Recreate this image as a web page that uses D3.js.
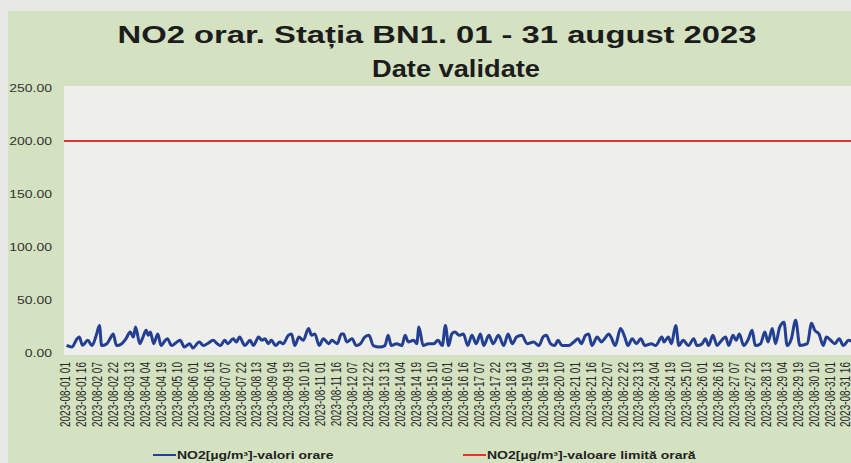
<!DOCTYPE html>
<html>
<head>
<script src="https://d3js.org/d3.v7.min.js"></script>
<style>
body{margin:0;background:#e8e8e6;}
svg{display:block;font-family:Arial, "Liberation Sans", sans-serif;}
</style>
</head>
<body>
<div id="chart"></div>
<script>
// hour index counted from 2023-08-01 01:00, NO2 in µg/m³
var hours = [1,6,11,13,16,21,25,29,32,34,39,42,45,48,53,57,61,64,66,70,73,76,78,80,83,87,90,94,96,100,105,108,112,117,120,126,130,135,139,143,
  146,150,153,158,161,164,169,174,177,182,185,188,191,194,198,202,205,210,213,216,220,224,229,232,235,239,243,248,251,256,260,262,265,270,274,278,282,286,290,
  296,301,304,307,312,317,320,323,328,331,333,337,342,347,351,355,358,361,364,367,371,375,379,383,387,391,394,399,403,408,413,417,421,425,430,435,
  441,446,450,453,457,461,464,468,474,479,483,486,490,493,496,501,505,508,512,514,518,523,527,530,534,538,542,546,552,556,562,564,568,571,575,578,582,
  587,592,595,600,603,606,610,614,617,622,625,629,632,635,639,643,647,650,655,659,662,666,669,673,677,680,684,688,692,699,703,706,710,714,717,721,725,729,733,738,743];
var no2 = [7.2,5.7,13.5,15,7.3,12,7,16.7,26,7,8.8,13.5,18,7,8.8,13.5,19.8,15,24.5,8.8,15,21.4,16.7,19.8,8.8,18,7,12,13.5,7,10.4,12,5.7,8.8,4.7,10.4,7,9.7,12,8.8,
  7,12,8.8,13.5,10.4,15,7,12,7,15,12,13.5,8.8,12,7,10.4,8.8,16.7,18,7,15,12,23,16.7,18,7,13.5,8.8,12,8.8,18,18,10.4,13.5,7,8.8,15,16.7,7,
  5.7,7,16.7,7,8.8,7,16.7,10.4,12,8.8,24.5,7,8.8,8.8,12,7,26,7,18,19.8,16.7,18,7,16.7,8.8,18,7,16.7,8.8,16.7,7,18,8.8,15,16.7,8.8,
  10.4,7,15,16.7,8.8,7,12,7,7,10.4,13.5,8.8,16.7,18,7,15,10.4,13.5,18,15,7,23,15,7,13.5,8.8,13.5,7,8.8,7,15,10.4,15,8.8,26,7,12,
  7,13.5,7,8.8,13.5,7,16.7,7,10.4,15,7,16.7,12,18,7,12,21.4,7,8.8,19.8,10.4,23,8.8,24.5,29,7,13.5,31,7,8.8,28,21.4,18,7,15,12,8.8,13.5,7,12,10];
var limitValue = 200;
var yTicks = [0, 50, 100, 150, 200, 250];
var xLabels = ["2023-08-01 01","2023-08-01 16","2023-08-02 07","2023-08-02 22","2023-08-03 13","2023-08-04 04","2023-08-04 19","2023-08-05 10","2023-08-06 01","2023-08-06 16",
  "2023-08-07 07","2023-08-07 22","2023-08-08 13","2023-08-09 04","2023-08-09 19","2023-08-10 10","2023-08-11 01","2023-08-11 16","2023-08-12 07","2023-08-12 22",
  "2023-08-13 13","2023-08-14 04","2023-08-14 19","2023-08-15 10","2023-08-16 01","2023-08-16 16","2023-08-17 07","2023-08-17 22","2023-08-18 13","2023-08-19 04",
  "2023-08-19 19","2023-08-20 10","2023-08-21 01","2023-08-21 16","2023-08-22 07","2023-08-22 22","2023-08-23 13","2023-08-24 04","2023-08-24 19","2023-08-25 10",
  "2023-08-26 01","2023-08-26 16","2023-08-27 07","2023-08-27 22","2023-08-28 13","2023-08-29 04","2023-08-29 19","2023-08-30 10","2023-08-31 01","2023-08-31 16"];
var labelStep = 15;

var W = 851, H = 463, sx = 1.4;
var svg = d3.select("#chart").append("svg").attr("width", W).attr("height", H);

// green panel and plot area
svg.append("rect").attr("x", 8).attr("y", 11).attr("width", W).attr("height", H)
  .style("fill", "#d4e2c1");
var x = d3.scaleLinear().domain([0, 743]).range([65.5, 854]);
var y = d3.scaleLinear().domain([0, 250]).range([353, 88]);
svg.append("rect").attr("x", 64).attr("y", y(250) - 2).attr("width", W).attr("height", y(0) - y(250) + 4)
  .style("fill", "#eeeeec");

// title
svg.append("text").attr("x", 437).attr("y", 43).attr("text-anchor", "middle")
  .attr("textLength", 639).attr("lengthAdjust", "spacingAndGlyphs")
  .style("font-size", "23px").style("font-weight", "bold").style("fill", "#1c1c1c")
  .text("NO2 orar. Stația BN1. 01 - 31 august 2023");
svg.append("text").attr("x", 456).attr("y", 77).attr("text-anchor", "middle")
  .attr("textLength", 168).attr("lengthAdjust", "spacingAndGlyphs")
  .style("font-size", "23px").style("font-weight", "bold").style("fill", "#1c1c1c")
  .text("Date validate");

// y labels
svg.selectAll("text.ylab").data(yTicks).enter().append("text").attr("class", "ylab")
  .attr("transform", function(d) { return "translate(52," + y(d) + ") scale(" + sx + ",1)"; })
  .attr("dy", "0.35em").attr("text-anchor", "end")
  .style("font-size", "10px").style("fill", "#333")
  .text(d3.format(".2f"));

// x labels
svg.selectAll("text.xlab").data(xLabels).enter().append("text").attr("class", "xlab")
  .attr("transform", function(d, i) { return "translate(" + x(i * labelStep) + ",362) scale(" + sx + ",1) rotate(-90)"; })
  .attr("dy", "0.35em").attr("text-anchor", "end")
  .style("font-size", "10px").style("fill", "#2a2a2a")
  .text(function(d) { return d; });

// limit line
svg.append("line").attr("x1", 64).attr("x2", W).attr("y1", y(limitValue)).attr("y2", y(limitValue))
  .style("stroke", "#e8302e").style("stroke-width", 2);

// hourly series
var pts = hours.map(function(h, i) { return [h, no2[i]]; });
svg.append("path").datum(pts)
  .attr("d", d3.line().curve(d3.curveMonotoneX).x(function(d) { return x(d[0]); }).y(function(d) { return y(d[1]); }))
  .style("fill", "none").style("stroke", "#233f92").style("stroke-width", 3)
  .style("stroke-linejoin", "round");

// legend
var legend = [
  {label: "NO2[µg/m³]-valori orare", color: "#233f92", x: 153},
  {label: "NO2[µg/m³]-valoare limită orară", color: "#e8302e", x: 463}
];
var lg = svg.selectAll("g.leg").data(legend).enter().append("g").attr("class", "leg")
  .attr("transform", function(d) { return "translate(" + d.x + ",455)"; });
lg.append("line").attr("x1", 0).attr("x2", 23).style("stroke", function(d) { return d.color; }).style("stroke-width", 2);
lg.append("text").attr("transform", "translate(24,0) scale(" + sx + ",1)").attr("dy", "0.35em")
  .style("font-size", "10px").style("font-weight", "bold").style("fill", "#222")
  .text(function(d) { return d.label; });
</script>
</body>
</html>
